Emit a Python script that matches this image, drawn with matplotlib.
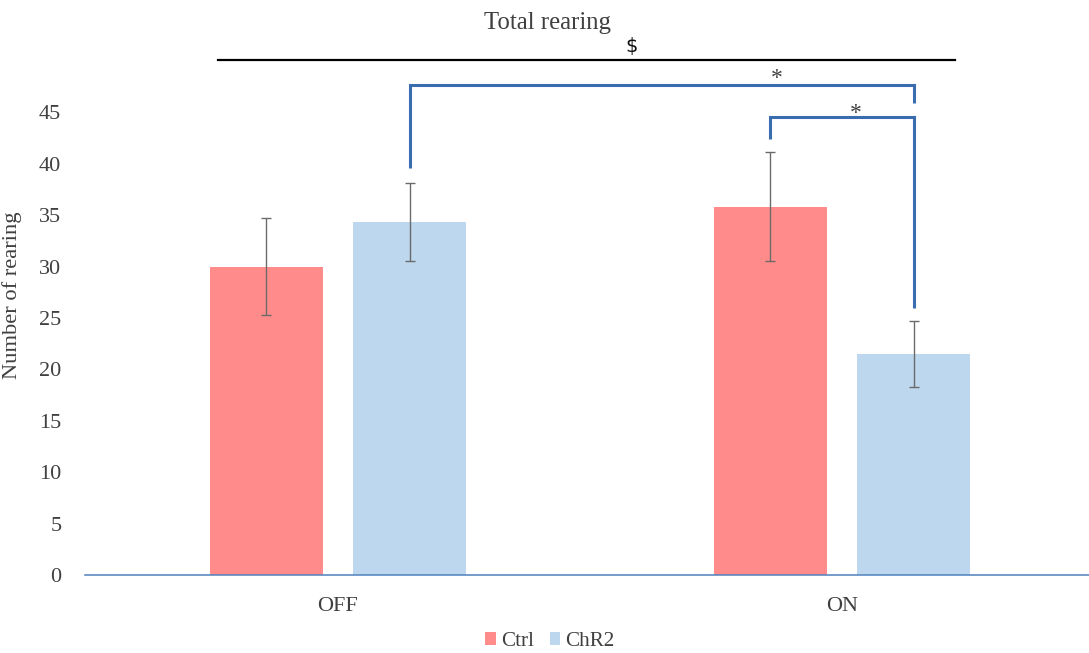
import numpy as np
import matplotlib
matplotlib.use('Agg')
import matplotlib.pyplot as plt

# data
conditions = ['OFF', 'ON']
groups = ['Ctrl', 'ChR2']
ctrl_mean = [30.0, 35.8]
ctrl_err = [4.7, 5.3]
chr2_mean = [34.3, 21.5]
chr2_err = [3.8, 3.2]

CTRL_COLOR = '#FF8B8B'
CHR2_COLOR = '#BDD7EE'
BRACKET = '#3A6DB0'

plt.rcParams['font.family'] = ['Liberation Serif', 'DejaVu Serif']

fig = plt.figure(figsize=(10.89, 6.53), dpi=100)
ax = fig.add_axes([0.078, 0.1194, 0.922, 0.7872])

x = np.arange(len(conditions))
width = 0.225
off = 0.142

ax.bar(x - off, ctrl_mean, width, color=CTRL_COLOR, label='Ctrl', zorder=2)
ax.bar(x + off, chr2_mean, width, color=CHR2_COLOR, label='ChR2', zorder=2)
ax.errorbar(x - off, ctrl_mean, yerr=ctrl_err, fmt='none', ecolor='#6b6b6b',
            elinewidth=1, capsize=3.5, capthick=1, zorder=3)
ax.errorbar(x + off, chr2_mean, yerr=chr2_err, fmt='none', ecolor='#6b6b6b',
            elinewidth=1, capsize=3.5, capthick=1, zorder=3)

ax.set_xlim(-0.502, 1.49)
ax.set_ylim(0, 50)
ax.set_yticks(range(0, 50, 5))
ax.set_xticks(x)
ax.set_xticklabels(conditions)
ax.tick_params(axis='both', length=0, labelsize=16, colors='#404040')
ax.tick_params(axis='x', pad=16)
ax.tick_params(axis='y', pad=17)
for s in ['top', 'right', 'left']:
    ax.spines[s].set_visible(False)
ax.spines['bottom'].set_color('#4F81BD')
ax.spines['bottom'].set_linewidth(1.1)
ax.set_ylabel('Number of rearing', fontsize=16.2, color='#404040')
ax.yaxis.set_label_coords(-0.063, 0.545)

# significance brackets
x_off_chr2 = x[0] + off
x_on_ctrl = x[1] - off
x_on_chr2 = x[1] + off
big_top = 47.7
small_top = 44.55
kw = dict(color=BRACKET, lw=2.2, clip_on=False, solid_capstyle='butt', solid_joinstyle='miter', zorder=4)
ax.plot([x_off_chr2, x_off_chr2, x_on_chr2, x_on_chr2],
        [chr2_mean[0] + chr2_err[0] + 1.5, big_top, big_top, big_top - 1.8], **kw)
ax.plot([x_on_ctrl, x_on_ctrl, x_on_chr2, x_on_chr2],
        [ctrl_mean[1] + ctrl_err[1] + 1.3, small_top, small_top, chr2_mean[1] + chr2_err[1] + 1.3], **kw)
ax.text(x_on_ctrl + 0.012, big_top - 0.45, '*', ha='center', va='bottom', fontsize=17, color='#404040')
ax.text((x_on_ctrl + x_on_chr2) / 2 + 0.028, small_top - 0.7, '*', ha='center', va='bottom', fontsize=17, color='#404040')

# overall effect line
ax.plot([-0.238, 1.224], [50.1, 50.1], color='black', lw=1.6, clip_on=False)
ax.text(0.582, 50.45, '$', ha='center', va='bottom', fontsize=14, family='DejaVu Sans', color='#101010')
ax.text(0.415, 52.6, 'Total rearing', ha='center', va='bottom', fontsize=17.8, color='#404040')

leg = fig.legend(loc='lower center', bbox_to_anchor=(0.505, -0.026), ncol=2, frameon=False,
                 fontsize=15.2, handlelength=0.5, handleheight=0.5, handletextpad=0.25,
                 columnspacing=0.75)
for t in leg.get_texts():
    t.set_color('#404040')

fig.savefig('out.png', dpi=100)
